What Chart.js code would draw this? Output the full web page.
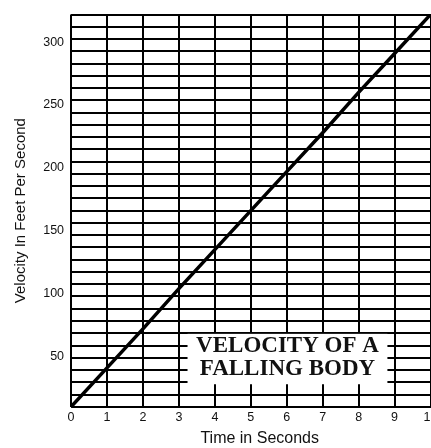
<!DOCTYPE html>
<html>
<head>
<meta charset="utf-8">
<script src="https://cdn.jsdelivr.net/npm/chart.js@4/dist/chart.umd.min.js"></script>
<style>
  html, body { margin: 0; padding: 0; background: #fff; overflow: hidden; }
  #wrap { width: 441px; height: 448px; }
</style>
</head>
<body>
<div id="wrap"><canvas id="graphVelocity"></canvas></div>
<script>
// Données
const timeSeconds = [0, 1, 2, 3, 4, 5, 6, 7, 8, 9, 10];
const velocityFeet = [10, 41, 72, 104, 135, 166, 197, 228, 260, 291, 322];
const xTickLabels = [0, 1, 2, 3, 4, 5, 6, 7, 8, 9, 10];
const yTickLabels = [50, 100, 150, 200, 250, 300];
const titleLines = ['VELOCITY OF A', 'FALLING BODY'];

const GRID_STEP = 10;   // quadrillage horizontal tous les 10 ft/s
const GRID_MAX = 320;

const sansFont = '"Liberation Sans", Arial, Helvetica, sans-serif';
const ink = '#111111';

// Encadré du titre, placé en unités d'axes
const titleBox = { x0: 3.24, x1: 8.8, y0: 18.4, y1: 59.5, line1: 49.2, line2: 30.7 };

const titleBoxPlugin = {
    id: 'titleBox',
    afterDatasetsDraw(chart) {
        const { ctx } = chart;
        const x = chart.scales.x;
        const g = chart.scales.yGrid;
        const left = x.getPixelForValue(titleBox.x0);
        const right = x.getPixelForValue(titleBox.x1);
        const top = g.getPixelForValue(titleBox.y1);
        const bottom = g.getPixelForValue(titleBox.y0);
        ctx.save();
        ctx.fillStyle = '#ffffff';
        ctx.fillRect(left, top, right - left, bottom - top);
        ctx.fillStyle = ink;
        ctx.font = 'bold 23px "Liberation Serif", "Times New Roman", serif';
        ctx.textAlign = 'center';
        ctx.textBaseline = 'middle';
        const cx = (left + right) / 2;
        ctx.fillText(titleLines[0], cx, g.getPixelForValue(titleBox.line1));
        ctx.fillText(titleLines[1], cx, g.getPixelForValue(titleBox.line2));
        ctx.restore();
    }
};

const ctx = document.getElementById('graphVelocity').getContext('2d');

new Chart(ctx, {
    type: 'line',
    data: {
        datasets: [{
            data: timeSeconds.map((t, i) => ({ x: t, y: velocityFeet[i] })),
            borderColor: '#000000',
            borderWidth: 3.5,
            pointRadius: 0,
            fill: false,
            tension: 0,
            xAxisID: 'x',
            yAxisID: 'y'
        }]
    },
    options: {
        responsive: true,
        maintainAspectRatio: false,
        animation: false,
        layout: { padding: { left: 11.6, top: 12.3, right: 0, bottom: 0 } },
        plugins: {
            legend: { display: false },
            tooltip: { enabled: false }
        },
        scales: {
            x: {
                type: 'linear',
                min: 0,
                max: 10,
                afterBuildTicks: axis => { axis.ticks = xTickLabels.map(v => ({ value: v })); },
                ticks: {
                    padding: 3.5,
                    autoSkip: false,
                    maxRotation: 0,
                    color: ink,
                    font: { family: sansFont, size: 12.5 }
                },
                grid: { color: '#000000', lineWidth: 2, drawTicks: false },
                border: { display: false },
                title: {
                    display: true,
                    // espaces en tête : le titre est décalé vers la droite dans l'original
                    text: '    Time in Seconds',
                    color: ink,
                    font: { family: sansFont, size: 16 },
                    padding: { top: 0, bottom: 0 }
                }
            },
            y: {
                type: 'linear',
                position: 'left',
                min: 10,
                max: 322,
                afterBuildTicks: axis => { axis.ticks = yTickLabels.map(v => ({ value: v })); },
                ticks: {
                    padding: 7,
                    color: ink,
                    font: { family: sansFont, size: 12.5 }
                },
                grid: { display: false, drawTicks: false },
                border: { display: false },
                title: {
                    display: true,
                    text: 'Velocity In Feet Per Second',
                    color: ink,
                    font: { family: sansFont, size: 15 },
                    padding: { top: 0, bottom: 6.6 }
                }
            },
            yGrid: {
                type: 'linear',
                position: 'right',
                min: 0,
                max: GRID_MAX,
                afterBuildTicks: axis => {
                    const t = [];
                    for (let v = 0; v <= GRID_MAX; v += GRID_STEP) t.push({ value: v });
                    axis.ticks = t;
                },
                ticks: { display: false },
                grid: { color: '#000000', lineWidth: 2, drawTicks: false },
                border: { display: false }
            }
        }
    },
    plugins: [titleBoxPlugin]
});
</script>
</body>
</html>
